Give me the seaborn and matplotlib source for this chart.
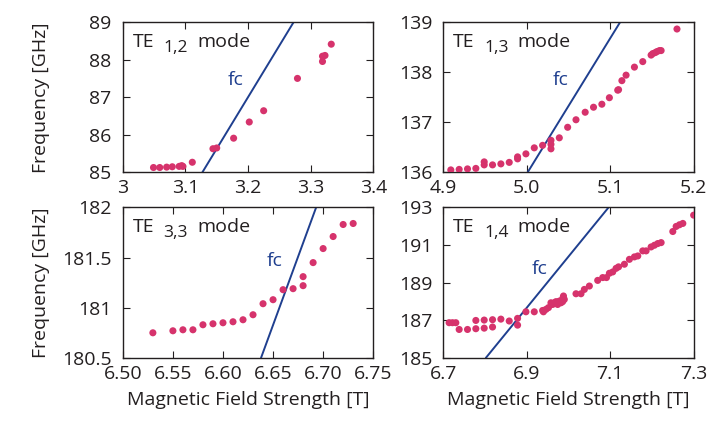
import numpy as np
import pandas as pd
import matplotlib
matplotlib.use('Agg')
import matplotlib.pyplot as plt
import matplotlib.transforms as mtransforms
import seaborn as sns

# TE 1,2 mode
b12 = [3.049, 3.059, 3.070, 3.079, 3.090, 3.094, 3.096, 3.111, 3.144, 3.150,
       3.177, 3.202, 3.225, 3.279, 3.319, 3.319, 3.323, 3.333]
f12 = [85.13, 85.13, 85.14, 85.15, 85.16, 85.18, 85.16, 85.27, 85.63, 85.65,
       85.91, 86.34, 86.64, 87.50, 87.95, 88.09, 88.11, 88.41]
fc12_b = [3.127, 3.273]
fc12_f = [85.0, 89.0]

# TE 1,3 mode
b13 = [4.909, 4.919, 4.929, 4.939, 4.949, 4.949, 4.959, 4.969, 4.979, 4.989,
       4.989, 4.999, 5.009, 5.019, 5.029, 5.029, 5.029, 5.039, 5.049, 5.059,
       5.070, 5.080, 5.090, 5.099, 5.109, 5.110, 5.114, 5.119, 5.129, 5.139,
       5.149, 5.151, 5.154, 5.156, 5.159, 5.161, 5.180]
f13 = [136.05, 136.06, 136.07, 136.08, 136.21, 136.15, 136.15, 136.17, 136.20, 136.27,
       136.31, 136.37, 136.49, 136.54, 136.64, 136.56, 136.47, 136.69, 136.90, 137.05,
       137.20, 137.30, 137.36, 137.49, 137.64, 137.65, 137.83, 137.94, 138.10, 138.21,
       138.34, 138.37, 138.39, 138.41, 138.43, 138.43, 138.86]
fc13_b = [5.001, 5.112]
fc13_f = [136.0, 139.0]

# TE 3,3 mode
b33 = [6.530, 6.550, 6.560, 6.570, 6.580, 6.590, 6.600, 6.610, 6.620, 6.630,
       6.640, 6.650, 6.660, 6.670, 6.680, 6.680, 6.690, 6.700, 6.710, 6.720, 6.730]
f33 = [180.75, 180.77, 180.78, 180.78, 180.83, 180.84, 180.85, 180.86, 180.88, 180.93,
       181.04, 181.08, 181.18, 181.19, 181.22, 181.31, 181.45, 181.59, 181.71, 181.83, 181.84]
fc33_b = [6.638, 6.693]
fc33_f = [180.5, 182.0]

# TE 1,4 mode
b14 = [6.714, 6.722, 6.730, 6.738, 6.758, 6.778, 6.778, 6.798, 6.798, 6.818,
       6.818, 6.838, 6.858, 6.878, 6.878, 6.898, 6.918, 6.938, 6.940, 6.946,
       6.952, 6.958, 6.962, 6.966, 6.970, 6.974, 6.978, 6.982, 6.986, 6.986,
       6.988, 6.990, 7.018, 7.030, 7.038, 7.050, 7.070, 7.082, 7.091, 7.098,
       7.106, 7.114, 7.120, 7.134, 7.146, 7.158, 7.166, 7.178, 7.186, 7.198,
       7.206, 7.214, 7.222, 7.250, 7.258, 7.266, 7.274, 7.300]
f14 = [186.87, 186.87, 186.87, 186.51, 186.51, 186.99, 186.55, 187.01, 186.58, 187.03,
       186.64, 187.06, 186.96, 187.10, 186.74, 187.45, 187.45, 187.52, 187.45, 187.58,
       187.67, 187.93, 187.84, 187.93, 187.99, 187.84, 188.02, 187.93, 188.15, 187.99,
       188.29, 188.11, 188.41, 188.41, 188.64, 188.82, 189.12, 189.27, 189.27, 189.50,
       189.57, 189.76, 189.84, 189.98, 190.24, 190.37, 190.42, 190.69, 190.69, 190.90,
       190.99, 191.08, 191.13, 191.72, 191.99, 192.08, 192.15, 192.59]
fc14_b = [6.802, 7.096]
fc14_f = [185.0, 193.0]

panels = [
    dict(b=b12, f=f12, fb=fc12_b, ff=fc12_f, sub='1,2', xlim=(3.0, 3.4), ylim=(85, 89),
         xt=[3.0, 3.1, 3.2, 3.3, 3.4], xtl=['3', '3.1', '3.2', '3.3', '3.4'],
         yt=[85, 86, 87, 88, 89], ytl=['85', '86', '87', '88', '89'], fcpos=(3.181, 87.46)),
    dict(b=b13, f=f13, fb=fc13_b, ff=fc13_f, sub='1,3', xlim=(4.9, 5.2), ylim=(136, 139),
         xt=[4.9, 5.0, 5.1, 5.2], xtl=['4.9', '5.0', '5.1', '5.2'],
         yt=[136, 137, 138, 139], ytl=['136', '137', '138', '139'], fcpos=(5.041, 137.85)),
    dict(b=b33, f=f33, fb=fc33_b, ff=fc33_f, sub='3,3', xlim=(6.50, 6.75), ylim=(180.5, 182),
         xt=[6.50, 6.55, 6.60, 6.65, 6.70, 6.75], xtl=['6.50', '6.55', '6.60', '6.65', '6.70', '6.75'],
         yt=[180.5, 181, 181.5, 182], ytl=['180.5', '181', '181.5', '182'], fcpos=(6.652, 181.47)),
    dict(b=b14, f=f14, fb=fc14_b, ff=fc14_f, sub='1,4', xlim=(6.7, 7.3), ylim=(185, 193),
         xt=[6.7, 6.9, 7.1, 7.3], xtl=['6.7', '6.9', '7.1', '7.3'],
         yt=[185, 187, 189, 191, 193], ytl=['185', '187', '189', '191', '193'], fcpos=(6.930, 189.71)),
]

sns.set_style('ticks')
plt.rcParams['font.family'] = ['Open Sans', 'DejaVu Sans']

text_col = '#231f20'
dot_col = '#d6336c'
line_col = '#1f3f8f'

fig, axes = plt.subplots(2, 2, figsize=(7.1, 4.23), dpi=100)
fig.subplots_adjust(left=0.173, right=0.977, top=0.948, bottom=0.154, wspace=0.28, hspace=0.233)
renderer = fig.canvas.get_renderer()

for ax, p in zip(axes.flat, panels):
    df = pd.DataFrame({'B': p['b'], 'F': p['f']})
    fc = pd.DataFrame({'B': p['fb'], 'F': p['ff']})
    sns.lineplot(data=fc, x='B', y='F', ax=ax, color=line_col, linewidth=1.4, sort=False)
    sns.scatterplot(data=df, x='B', y='F', ax=ax, color=dot_col, s=26, edgecolor='none', zorder=3)
    ax.set_xlim(*p['xlim'])
    ax.set_ylim(*p['ylim'])
    ax.set_xticks(p['xt'])
    ax.set_xticklabels(p['xtl'])
    ax.set_yticks(p['yt'])
    ax.set_yticklabels(p['ytl'])
    ax.tick_params(axis='both', direction='in', labelsize=14, colors=text_col, length=5,
                   right=True, left=True, top=True, bottom=True)
    ax.tick_params(axis='y', pad=8)
    ax.tick_params(axis='x', pad=5)
    for s in ax.spines.values():
        s.set_color(text_col)
        s.set_linewidth(1.0)
    ax.set_xlabel('')
    ax.set_ylabel('')

    # "TE _{m,n} mode" built from three pieces
    t1 = ax.text(0.04, 0.836, 'TE', transform=ax.transAxes, fontsize=14,
                 color=text_col, va='baseline', ha='left')
    w1 = t1.get_window_extent(renderer).width
    tr2 = mtransforms.offset_copy(ax.transAxes, fig=fig, x=w1 + 9, y=-5, units='dots')
    t2 = ax.text(0.04, 0.836, p['sub'], transform=tr2, fontsize=12.5,
                 color=text_col, va='baseline', ha='left')
    w2 = t2.get_window_extent(renderer).width
    tr3 = mtransforms.offset_copy(ax.transAxes, fig=fig, x=w1 + 9 + w2 + 9, y=0, units='dots')
    ax.text(0.04, 0.836, 'mode', transform=tr3, fontsize=14,
            color=text_col, va='baseline', ha='left')

    ax.text(p['fcpos'][0], p['fcpos'][1], 'fc', fontsize=14, color=line_col,
            ha='center', va='center')

for ax in axes[:, 0]:
    ax.set_ylabel('Frequency [GHz]', fontsize=14, color=text_col)
    ax.yaxis.set_label_coords(-0.29, 0.5)
for ax in axes[1, :]:
    ax.set_xlabel('Magnetic Field Strength [T]', fontsize=14, color=text_col, labelpad=6)

fig.savefig('out.png', dpi=100)
